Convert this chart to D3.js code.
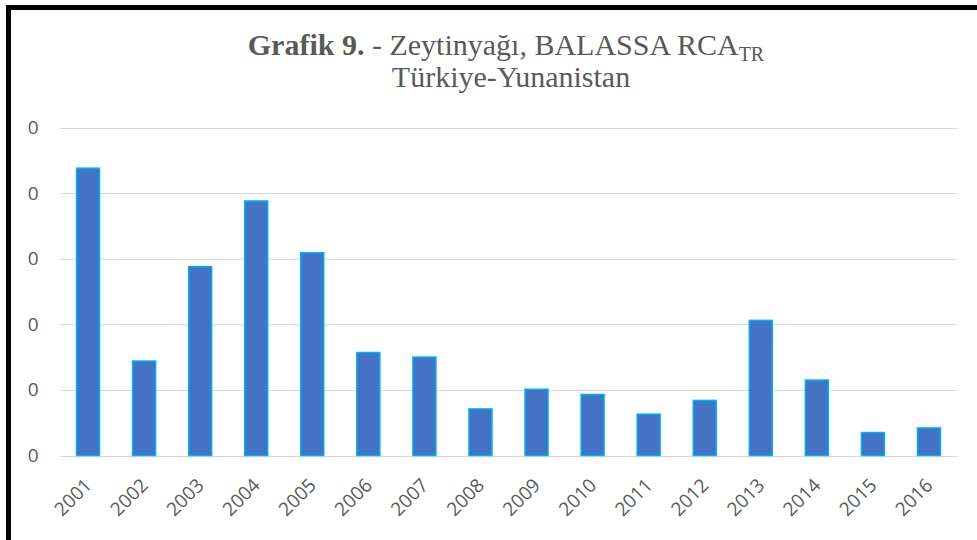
<!doctype html>
<html lang="tr">
	<head>
		<meta charset="utf-8">
		<title>Grafik 9</title>
		<style type="text/css">
			body {
				margin: 0;
				background-color: white;
			}
			svg {
				display: block;
				background-color: white;
			}
			.grid line {
				stroke: #d9d9d9;
				stroke-width: 1px;
			}
			.axis text {
				font-family: "Open Sans", sans-serif;
				font-size: 19px;
				fill: #595959;
			}
			.title {
				font-family: "Liberation Serif", "Times New Roman", serif;
				font-size: 30px;
				fill: #595959;
			}
			rect.bar {
				fill: #4472c4;
				stroke: #00b0f0;
				stroke-width: 1.5px;
			}
		</style>
	</head>
	<body>
		<script type="text/javascript" src="https://cdnjs.cloudflare.com/ajax/libs/d3/7.8.5/d3.min.js"></script>
		<script type="text/javascript">
			// veriler
			var years = ["2001", "2002", "2003", "2004", "2005", "2006", "2007", "2008",
				"2009", "2010", "2011", "2012", "2013", "2014", "2015", "2016"];
			var rca = [0.0438, 0.0144, 0.0288, 0.0388, 0.0309, 0.0157, 0.0150, 0.0071,
				0.0101, 0.0093, 0.0063, 0.0084, 0.0206, 0.0115, 0.0035, 0.0042];
			var yTicks = [0, 0.01, 0.02, 0.03, 0.04, 0.05];

			var fullwidth = 977;
			var fullheight = 540;
			var margin = { top: 127.5, right: 20, bottom: 84.5, left: 60 };

			var svg = d3.select("body")
				.append("svg")
				.attr("width", fullwidth)
				.attr("height", fullheight);

			// cerceve (ust ve sol)
			svg.append("path")
				.attr("d", "M8.5,540 L8.5,7.5 L977,7.5")
				.attr("fill", "none")
				.attr("stroke", "black")
				.attr("stroke-width", 5);

			var xScale = d3.scaleBand()
				.domain(years)
				.range([margin.left, fullwidth - margin.right])
				.paddingInner(0.59)
				.paddingOuter(0.295);

			var yScale = d3.scaleLinear()
				.domain([0, 0.05])
				.range([fullheight - margin.bottom, margin.top]);

			// grid
			svg.append("g")
				.attr("class", "grid")
				.selectAll("line")
				.data(yTicks)
				.enter()
				.append("line")
				.attr("x1", margin.left)
				.attr("x2", fullwidth - margin.right)
				.attr("y1", function(d) { return Math.round(yScale(d)) + 0.5; })
				.attr("y2", function(d) { return Math.round(yScale(d)) + 0.5; });

			// y ekseni: etiketler hep "0"
			var yAxis = d3.axisLeft(yScale)
				.tickValues(yTicks)
				.tickFormat(d3.format(".0f"))
				.tickSize(0)
				.tickPadding(21.5);
			svg.append("g")
				.attr("class", "y axis")
				.attr("transform", "translate(" + margin.left + ",0)")
				.call(yAxis)
				.call(function(g) { g.select(".domain").remove(); });

			// x ekseni
			var xAxis = d3.axisBottom(xScale).tickSize(0);
			var gx = svg.append("g")
				.attr("class", "x axis")
				.attr("transform", "translate(0," + (fullheight - margin.bottom) + ")")
				.call(xAxis);
			gx.select(".domain").remove();
			gx.selectAll("text")
				.attr("text-anchor", "end")
				.attr("dy", null)
				.attr("y", 0)
				.attr("transform", "translate(5,31) rotate(-45)");

			// barlar
			svg.selectAll("rect.bar")
				.data(rca)
				.enter()
				.append("rect")
				.attr("class", "bar")
				.attr("x", function(d, i) { return xScale(years[i]); })
				.attr("width", xScale.bandwidth())
				.attr("y", function(d) { return yScale(d); })
				.attr("height", function(d) { return yScale(0) - yScale(d); });

			// baslik
			var t1 = svg.append("text")
				.attr("class", "title")
				.attr("x", 506)
				.attr("y", 55)
				.attr("text-anchor", "middle");
			t1.append("tspan").attr("font-weight", "bold").text("Grafik 9.");
			t1.append("tspan").text(" - Zeytinyağı, BALASSA RCA");
			t1.append("tspan").attr("font-size", "20px").attr("dy", 6).text("TR");
			svg.append("text")
				.attr("class", "title")
				.attr("x", 511)
				.attr("y", 87)
				.attr("font-size", "31px")
				.attr("text-anchor", "middle")
				.text("Türkiye-Yunanistan");
		</script>
	</body>
</html>
